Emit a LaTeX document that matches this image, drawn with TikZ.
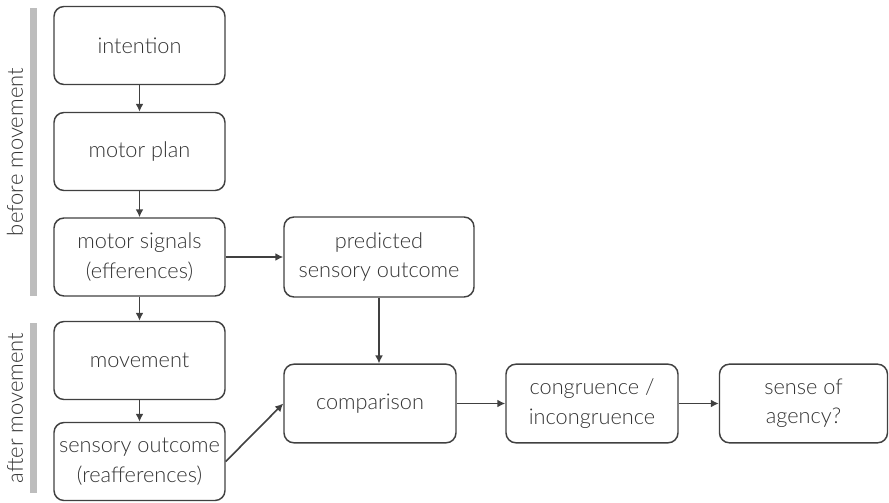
\documentclass[tikz,border=0pt]{standalone}
\usepackage{fontspec}
\setmainfont{Lato}[UprightFont=* Light]
\usetikzlibrary{arrows.meta}

\definecolor{boxline}{HTML}{404040}
\definecolor{bargray}{HTML}{BDBDBD}
\definecolor{txtgray}{HTML}{333333}

\tikzset{
	stagebox/.style = {draw = boxline, line width = 1.1pt, rounded corners = 7.5pt,
		align = center, inner sep = 0pt, text = txtgray,
		font = \fontsize{16.3}{22}\selectfont},
	flow/.style = {draw = boxline, line width = 1.2pt, -{Latex[length=6pt, width=6pt]}},
	phasebar/.style = {fill = bargray, draw = none},
	phaselabel/.style = {rotate = 90, text = txtgray, font = \fontsize{16.5}{20}\selectfont}
}

\begin{document}
\begin{tikzpicture}[x = 0.75pt, y = -0.75pt]
					\useasboundingbox (0,0) rectangle (889,503);

					% left column
					\begin{scope}[every node/.style = {stagebox, minimum width = 128.25pt, minimum height = 58.5pt}]
						\node (intent)   at (139.5, 45.5)  {intention};
						\node (plan)     at (139.5, 151.5) {motor plan};
						\node (signals)  at (139.5, 257)   {motor signals\\(efferences)};
						\node (move)     at (139.5, 360.5) {movement};
						\node (sensory)  at (139.5, 461.5) {sensory outcome\\(reafferences)};
					\end{scope}

					% right part
					\node [stagebox, minimum width = 142.5pt, minimum height = 60pt] (predict) at (379, 257) {predicted\\sensory outcome};
					\begin{scope}[every node/.style = {stagebox, minimum height = 59pt}]
						\node [minimum width = 129pt] (compare) at (370, 403.5) {comparison};
						\node [minimum width = 129pt] (congr)   at (592, 403.5) {congruence /\\incongruence};
						\node [minimum width = 126pt] (agency)  at (803.5, 403.5) {sense of\\agency?};
					\end{scope}

					% phases
					\fill [phasebar] (30,8) rectangle (37,296);
					\fill [phasebar] (30,323) rectangle (37,493);
					\node [phaselabel] (before) at (15,152) {before movement};
					\node [phaselabel] (after)  at (15,408) {after movement};

					% connectors
					\begin{scope}[flow]
						\draw (intent) -- (plan);
						\draw (plan) -- (signals);
						\draw (signals) -- (move);
						\draw (move) -- (sensory);
						\draw (signals) -- (predict);
						\draw (predict.south -| 379,0) -- (compare.north -| 379,0);
						\draw (sensory.east) -- (compare.west);
						\draw (compare) -- (congr);
						\draw (congr) -- (agency);
					\end{scope}
				\end{tikzpicture}
\end{document}
